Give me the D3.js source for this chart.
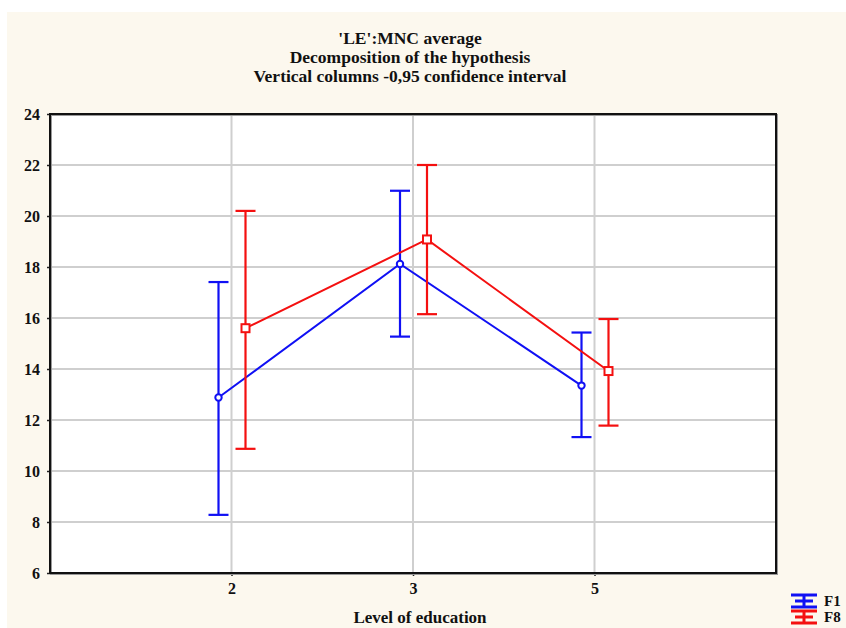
<!DOCTYPE html>
<html>
<head>
<meta charset="utf-8">
<script src="https://cdn.jsdelivr.net/npm/d3@7"></script>
<style>
  body { margin: 0; background: #fff; }
  svg { display: block; }
  text { font-family: "Liberation Serif", "DejaVu Serif", serif; font-weight: bold; fill: #111; }
</style>
</head>
<body>
<script>
// data
var levels = ["2", "3", "5"];
var seriesNames = ["F1", "F8"];
var f1Mean = [12.88, 18.12, 13.35];
var f1Low = [8.28, 15.27, 11.33];
var f1High = [17.41, 20.99, 15.43];
var f8Mean = [15.6, 19.08, 13.92];
var f8Low = [10.87, 16.15, 11.78];
var f8High = [20.2, 22.0, 15.96];
var yTicks = [6, 8, 10, 12, 14, 16, 18, 20, 22, 24];
var titleLines = ["'LE':MNC average", "Decomposition of the hypothesis", "Vertical columns -0,95 confidence interval"];

var W = 846, H = 628;
var margin = {top: 114, right: 70, bottom: 55, left: 50},
    width = W - margin.left - margin.right,
    height = H - margin.top - margin.bottom;

var svg = d3.select("body").append("svg")
    .attr("width", W)
    .attr("height", H);

// cream page background
svg.append("rect")
    .attr("x", 7).attr("y", 12)
    .attr("width", W - 7).attr("height", H - 12)
    .attr("fill", "#fcf8ee");

var g = svg.append("g")
    .attr("transform", "translate(" + margin.left + "," + margin.top + ")");

var x = d3.scalePoint().domain(levels).range([0, width]).padding(1);
var y = d3.scaleLinear().domain([6, 24]).range([height, 0]);

// plot area
g.append("rect")
    .attr("width", width).attr("height", height)
    .attr("fill", "#fff");

// grid
g.selectAll(".hgrid").data(yTicks.slice(1, -1)).enter().append("line")
    .attr("x1", 0).attr("x2", width)
    .attr("y1", d => y(d)).attr("y2", d => y(d))
    .attr("stroke", "#cfcfcf").attr("stroke-width", 2);
g.selectAll(".vgrid").data(levels).enter().append("line")
    .attr("x1", d => x(d)).attr("x2", d => x(d))
    .attr("y1", 0).attr("y2", height)
    .attr("stroke", "#cfcfcf").attr("stroke-width", 2);

// axes
var yAxis = d3.axisLeft(y).tickValues(yTicks).tickSize(3).tickPadding(7);
var xAxis = d3.axisBottom(x).tickSize(3).tickPadding(7);

var ya = g.append("g").call(yAxis);
var xa = g.append("g").attr("transform", "translate(0," + height + ")").call(xAxis);
[ya, xa].forEach(function (a) {
    a.select(".domain").remove();
    a.selectAll("line").attr("stroke", "#222").attr("stroke-width", 1.5);
    a.selectAll("text").style("font-size", "16px").attr("fill", "#111");
});
ya.selectAll("text").attr("x", -10);
xa.selectAll("text").attr("y", 10);

// frame
g.append("rect")
    .attr("x", 1).attr("y", 1)
    .attr("width", width).attr("height", height)
    .attr("fill", "none").attr("stroke", "#999").attr("stroke-width", 2);
g.append("rect")
    .attr("width", width).attr("height", height)
    .attr("fill", "none").attr("stroke", "#111").attr("stroke-width", 2);

// series
var series = [
    {name: "F1", mean: f1Mean, low: f1Low, high: f1High, color: "#1010f4", dx: -13, marker: "circle"},
    {name: "F8", mean: f8Mean, low: f8Low, high: f8High, color: "#f41010", dx: 14, marker: "square"}
];
var cap = 10;

series.forEach(function (s) {
    var pts = levels.map(function (l, i) {
        return {x: x(l) + s.dx, m: s.mean[i], lo: s.low[i], hi: s.high[i]};
    });
    var sg = g.append("g");

    sg.append("path")
        .datum(pts)
        .attr("fill", "none")
        .attr("stroke", s.color)
        .attr("stroke-width", 2)
        .attr("d", d3.line().x(d => d.x).y(d => y(d.m)));

    pts.forEach(function (p) {
        sg.append("line")
            .attr("x1", p.x).attr("x2", p.x)
            .attr("y1", y(p.lo)).attr("y2", y(p.hi))
            .attr("stroke", s.color).attr("stroke-width", 2.2);
        [p.lo, p.hi].forEach(function (v) {
            sg.append("line")
                .attr("x1", p.x - cap).attr("x2", p.x + cap)
                .attr("y1", y(v)).attr("y2", y(v))
                .attr("stroke", s.color).attr("stroke-width", 2.2);
        });
        if (s.marker === "square") {
            sg.append("rect")
                .attr("x", p.x - 4).attr("y", y(p.m) - 4)
                .attr("width", 8).attr("height", 8)
                .attr("fill", "#fff").attr("stroke", s.color).attr("stroke-width", 2);
        } else {
            sg.append("circle")
                .attr("cx", p.x).attr("cy", y(p.m)).attr("r", 3.2)
                .attr("fill", "#fff").attr("stroke", s.color).attr("stroke-width", 2);
        }
    });
});

// title
svg.selectAll(".title").data(titleLines).enter().append("text")
    .attr("x", 410)
    .attr("y", (d, i) => 44 + i * 19)
    .attr("text-anchor", "middle")
    .style("font-size", "17.5px")
    .text(d => d);

// x axis title
svg.append("text")
    .attr("x", 420).attr("y", 623)
    .attr("text-anchor", "middle")
    .style("font-size", "17px")
    .text("Level of education");

// legend
var legend = svg.append("g");
series.forEach(function (s, i) {
    var ly = 601 + i * 16;
    var lg = legend.append("g").attr("transform", "translate(804," + ly + ")");
    lg.append("line").attr("x1", -13).attr("x2", 13).attr("y1", -6).attr("y2", -6)
        .attr("stroke", s.color).attr("stroke-width", 3);
    lg.append("line").attr("x1", -13).attr("x2", 13).attr("y1", 6).attr("y2", 6)
        .attr("stroke", s.color).attr("stroke-width", 3);
    lg.append("line").attr("x1", 0).attr("x2", 0).attr("y1", -6).attr("y2", 6)
        .attr("stroke", s.color).attr("stroke-width", 3);
    lg.append("line").attr("x1", -9).attr("x2", 9).attr("y1", 0).attr("y2", 0)
        .attr("stroke", s.color).attr("stroke-width", 3);
    lg.append("text").attr("x", 20).attr("y", 5)
        .style("font-size", "15px")
        .text(s.name);
});
</script>
</body>
</html>
